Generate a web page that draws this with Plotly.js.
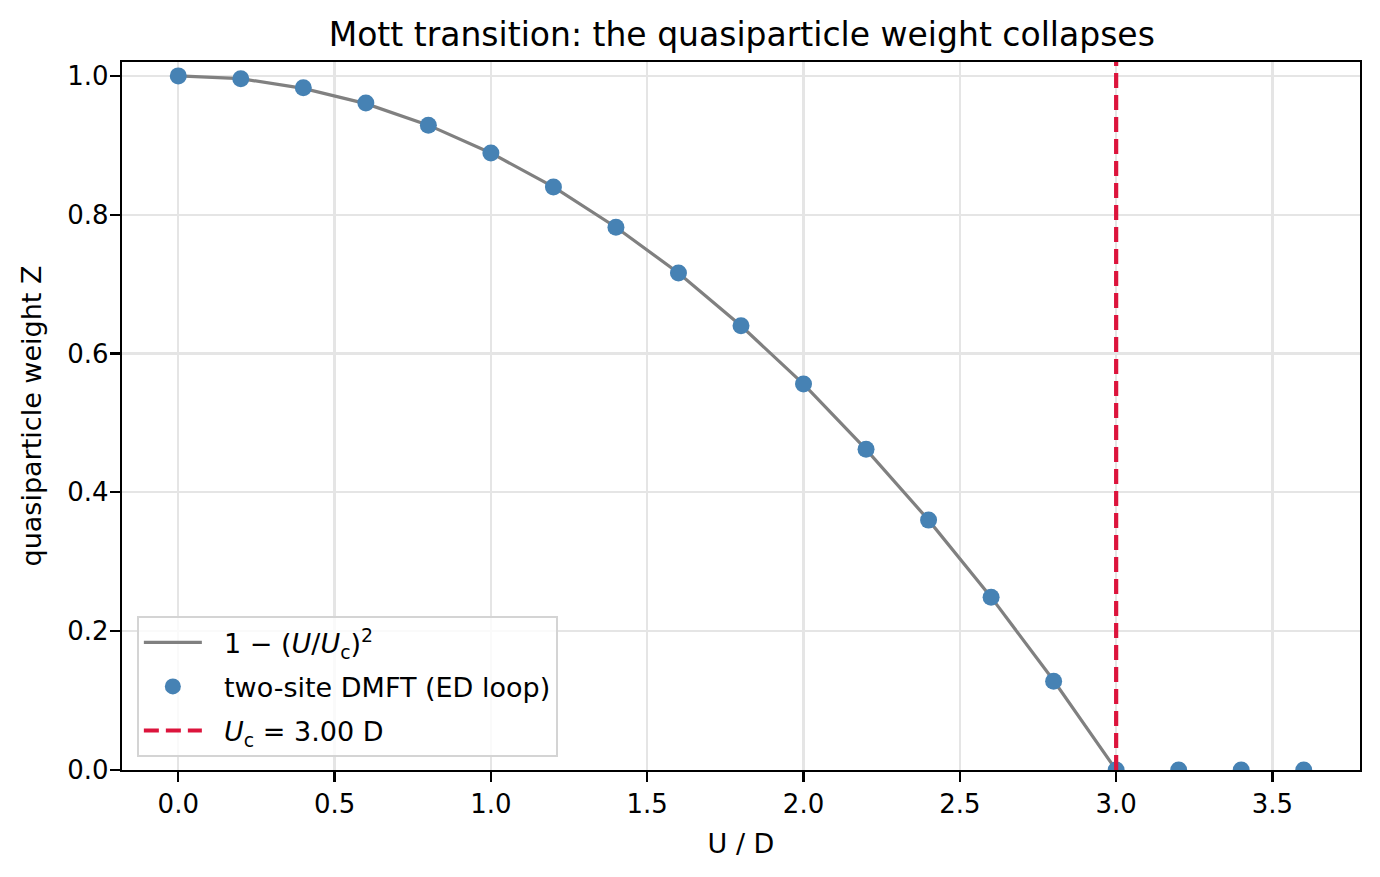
<!DOCTYPE html>
<html>
<head>
<meta charset="utf-8">
<script src="https://cdn.plot.ly/plotly-3.0.1.min.js"></script>
<style>
  html, body { margin: 0; padding: 0; background: #ffffff; }
  #chart { width: 1380px; height: 877px; }
</style>
</head>
<body>
<div id="chart"></div>
<script>
// Interaction strength U / D
const U_dmft = [0.0, 0.2, 0.4, 0.6, 0.8, 1.0, 1.2, 1.4, 1.6, 1.8, 2.0, 2.2, 2.4, 2.6, 2.8, 3.0, 3.2, 3.4, 3.6];
// Quasiparticle weight from the two-site DMFT self-consistency loop
const Z_dmft = [1.000, 0.996, 0.983, 0.961, 0.929, 0.889, 0.840, 0.782, 0.716, 0.640, 0.556, 0.462, 0.360, 0.249, 0.128, 0.000, 0.000, 0.000, 0.000];

// Reference curve 1 - (U/Uc)^2, tabulated up to Uc
const U_fit = [0.0, 0.2, 0.4, 0.6, 0.8, 1.0, 1.2, 1.4, 1.6, 1.8, 2.0, 2.2, 2.4, 2.6, 2.8, 3.0];
const Z_fit = [1.000, 0.996, 0.982, 0.960, 0.929, 0.889, 0.840, 0.782, 0.716, 0.640, 0.556, 0.462, 0.360, 0.249, 0.129, 0.000];

// Critical interaction
const Uc = 3.0;

const FONT = "DejaVu Sans, Liberation Sans, sans-serif";
// small gap between legend symbols and their labels
const GAP = "\u00a0\u00a0";

const traces = [
  {
    x: U_fit, y: Z_fit,
    type: "scatter", mode: "lines",
    name: GAP + "1 − (<i>U</i>/<i>U</i><sub>c</sub>)<sup>2</sup>",
    legendgroup: "fit",
    line: { color: "#808080", width: 3.2 },
    hoverinfo: "skip"
  },
  {
    x: U_dmft, y: Z_dmft,
    type: "scatter", mode: "markers",
    name: GAP + "two-site DMFT (ED loop)",
    legendgroup: "dmft",
    marker: { color: "#4682B4", size: 17 }
  }
];

const layout = {
  width: 1380, height: 877,
  paper_bgcolor: "#ffffff", plot_bgcolor: "#ffffff",
  margin: { l: 122, r: 20, t: 62, b: 107 },
  font: { family: FONT, size: 27, color: "#000000" },
  title: {
    text: "Mott transition: the quasiparticle weight collapses",
    font: { family: FONT, size: 33, color: "#000000" },
    x: 0.5375, xanchor: "center", y: 0.961, yanchor: "middle"
  },
  xaxis: {
    range: [-0.18, 3.78], dtick: 0.5, tick0: 0, tickformat: ".1f",
    showgrid: true, gridcolor: "#e5e5e5", gridwidth: 2.2,
    zeroline: false,
    showline: true, linecolor: "#000000", linewidth: 2.2, mirror: true,
    ticks: "outside", ticklen: 10, tickwidth: 2.2, tickcolor: "#000000",
    tickfont: { family: FONT, size: 26 },
    title: { text: "U / D", font: { family: FONT, size: 27 }, standoff: 16 }
  },
  yaxis: {
    range: [0, 1.02], dtick: 0.2, tick0: 0, tickformat: ".1f",
    showgrid: true, gridcolor: "#e5e5e5", gridwidth: 2.2,
    zeroline: false,
    showline: true, linecolor: "#000000", linewidth: 2.2, mirror: true,
    ticks: "outside", ticklen: 10, tickwidth: 2.2, tickcolor: "#000000",
    tickfont: { family: FONT, size: 26 },
    ticklabelstandoff: -4,
    title: { text: "quasiparticle weight Z", font: { family: FONT, size: 27 }, standoff: 18 }
  },
  shapes: [
    {
      type: "line", xref: "x", yref: "paper",
      x0: Uc, x1: Uc, y0: 0, y1: 1,
      line: { color: "#DC143C", width: 4.2, dash: "15px,7px" },
      layer: "above",
      showlegend: true,
      legendgroup: "uc",
      name: GAP + "<i>U</i><sub>c</sub> = 3.00 D"
    }
  ],
  legend: {
    x: 0.012, y: 0.018, xanchor: "left", yanchor: "bottom",
    bgcolor: "rgba(255,255,255,0.8)",
    bordercolor: "#d4d4d4", borderwidth: 2,
    font: { family: FONT, size: 27 },
    traceorder: "grouped", tracegroupgap: 6,
    itemwidth: 58
  },
  showlegend: true
};

Plotly.newPlot("chart", traces, layout, { displayModeBar: false, staticPlot: true });
</script>
</body>
</html>
